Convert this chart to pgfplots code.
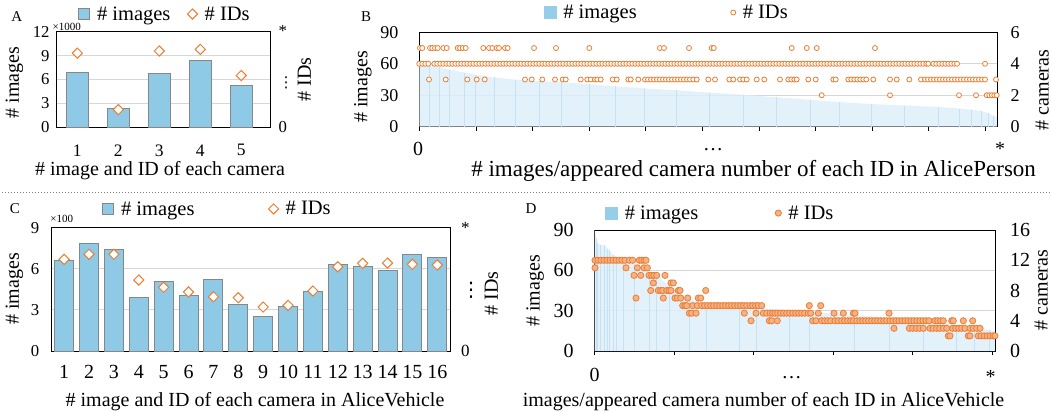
\documentclass[border=0pt]{standalone}
\usepackage{fontspec}
\setmainfont{Liberation Serif}
\newfontfamily\dejavu{DejaVu Sans}
\usepackage{pgfplots}
\pgfplotsset{compat=1.18}

\definecolor{barblue}{RGB}{142,201,230}
\definecolor{baredge}{RGB}{135,135,135}
\definecolor{ora}{RGB}{237,125,49}
\definecolor{pale}{RGB}{222,239,249}
\definecolor{paleline}{RGB}{196,226,243}
\definecolor{legblue}{RGB}{150,205,232}
\definecolor{salmon}{RGB}{245,178,135}
\definecolor{gridc}{RGB}{215,215,215}

\newcommand{\fs}[1]{\rmfamily\fontsize{#1}{#1}\selectfont}

\pgfplotsset{
 panel/.style={scale only axis, axis line style={black, line width=1pt},
   /pgf/number format/assume math mode=true,
   tick label style={font=\fs{16.7}}, label style={font=\fs{20}},
   grid style={gridc, line width=1pt}},
 legA/.style={legend style={draw=none, fill=none, legend columns=2, font=\fs{20.5}, anchor=center, inner sep=0pt,
   /tikz/every even column/.append style={column sep=#1},
   /tikz/every odd column/.append style={column sep=5pt}}, legend cell align=left},
 barleg/.style={legend image code/.code={\draw[fill=barblue, draw=baredge, line width=0.8pt] (0pt,-5.5pt) rectangle (11pt,5.5pt);}},
 paleleg/.style={legend image code/.code={\fill[legblue] (0pt,-6pt) rectangle (12pt,6pt);}},
 markleg/.style={legend image code/.code={\draw[mark repeat=2,mark phase=2,##1] plot coordinates {(0pt,0pt)(5pt,0pt)(10pt,0pt)};}},
}

\begin{document}
\begin{tikzpicture}
\path[use as bounding box] (0pt,0pt) rectangle (1052pt,-412pt);

%%%%%%%%%%%%%%%% A
\begin{axis}[panel, at={(56pt,-127pt)}, anchor=south west, width=214pt, height=95pt,
 xmin=0.48, xmax=5.7, ymin=0, ymax=12, xtick={1,2,3,4,5}, ytick={0,3,6,9,12},
 major tick length=0pt, ymajorgrids,
 xticklabel style={font=\fs{17.5}, yshift=-14pt}, yticklabel style={xshift=-3pt},
 xlabel={\# image and ID of each camera}, xlabel style={at={(axis description cs:0.486,-0.463)}, anchor=center},
 ylabel={\# images}, ylabel style={at={(axis description cs:-0.194,0.468)}, anchor=center}]
\addplot[ybar, bar width=22pt, fill=barblue, draw=baredge, line width=1pt] coordinates {(1,6.9)(2,2.4)(3,6.7)(4,8.4)(5,5.2)};
\end{axis}
\begin{axis}[panel, at={(56pt,-127pt)}, anchor=south west, width=214pt, height=95pt,
 xmin=0.48, xmax=5.7, ymin=0, ymax=12, axis y line*=right, axis x line=none,
 ytick={0,5.6,12}, yticklabels={0,{\dejavu\fontsize{15}{15}\selectfont ⋮},\raisebox{2pt}{*}}, major tick length=0pt, yticklabel style={xshift=5pt},
 ylabel={\# IDs}, ylabel style={at={(axis description cs:1.161,0.5)}, anchor=center},
 legA=15pt, legend style={at={(axis description cs:0.509,1.189)}}]
\addlegendimage{barleg}
\addplot[markleg, only marks, mark=square*, mark size=3.6pt, mark options={rotate=45, fill=white, draw=ora, line width=1pt}] coordinates {(1,9.33)(2,2.2)(3,9.6)(4,9.8)(5,6.5)};
\legend{\# images, \# IDs}
\end{axis}

%%%%%%%%%%%%%%%% B
\begin{axis}[panel, at={(419.3pt,-126.7pt)}, anchor=south west, width=578.4pt, height=94.4pt,
 xmin=0, xmax=578.4, ymin=0, ymax=90, ytick={0,30,60,90}, ymajorgrids,
 xtick={0,56.6,...,570}, xticklabels={}, xtick pos=left, tick align=outside,
 xtick style={black, line width=0.8pt}, major tick length=4pt, ytick style={draw=none},
 yticklabel style={font=\fs{18}, xshift=-13.5pt},
 xlabel={\# images/appeared camera number of each ID in AlicePerson}, xlabel style={font=\fs{23}, at={(axis description cs:0.578,-0.469)}, anchor=center},
 ylabel={\# images}, ylabel style={at={(axis description cs:-0.0973,0.42)}, anchor=center}]
\addplot[draw=none, fill=pale, fill opacity=0.85] coordinates {(0,60)(10,58)(20,56.5)(30,54.5)(45,51.5)(55.7,49.6)(75,47)(95.7,44.8)(120,43.5)(142.4,42.3)(170,40.5)(195.7,38.5)(225,36.5)(257.4,34.7)(290,32.5)(324,30.5)(357,28)(390.7,25.7)(420,23.5)(452.4,21.6)(485,20.2)(519,18.8)(540,17.3)(552.4,16.2)(562,15)(569,13)(574,10.5)(578.4,8.3)} \closedcycle;
\addplot[ycomb, paleline, line width=0.7pt, mark=none] coordinates {(10,58)(20,56.5)(30,54.5)(45,51.5)(55.7,49.6)(75,47)(95.7,44.8)(120,43.5)(142.4,42.3)(170,40.5)(195.7,38.5)(225,36.5)(257.4,34.7)(290,32.5)(324,30.5)(357,28)(390.7,25.7)(420,23.5)(452.4,21.6)(485,20.2)(519,18.8)(540,17.3)(552.4,16.2)(562,15)(569,13)(574,10.5)};
\end{axis}
\begin{axis}[panel, at={(419.3pt,-126.7pt)}, anchor=south west, width=578.4pt, height=94.4pt,
 xmin=0, xmax=578.4, ymin=0, ymax=6, axis y line*=right, axis x line=none, clip=false,
 ytick={0,2,4,6}, ytick style={draw=none}, yticklabel style={font=\fs{18}, xshift=9.5pt},
 ylabel={\# cameras}, ylabel style={at={(axis description cs:1.077,0.389)}, anchor=center},
 legA=92pt, legend style={at={(axis description cs:0.428,1.21)}}]
\addlegendimage{paleleg}
\addplot[markleg, only marks, mark=*, mark size=2.5pt, mark options={fill=white, draw=ora, line width=0.8pt}] coordinates {
(0.7,5)(3,5)(10.7,5)(13,5)(15.7,5)(18.4,5)(24,5)(27.4,5)(38.4,5)(40.7,5)(43.4,5)(46.4,5)(64,5)(69.7,5)(73,5)(77.4,5)(79.7,5)(85.7,5)(88.4,5)(114.7,5)(136.7,5)(170,5)(240.7,5)(244.7,5)(269.7,5)(292.4,5)(294.5,5)(372.4,5)(387.4,5)(397.4,5)(455.7,5)
(0,4)(3,4)(6,4)(9,4)(15,4)(18,4)(21,4)(24,4)(27,4)(30,4)(33,4)(36,4)(39,4)(42,4)(45,4)(48,4)(51,4)(54,4)(57,4)(60,4)(63,4)(66,4)(69,4)(72,4)(75,4)(78,4)(81,4)(84,4)(87,4)(90,4)(93,4)(96,4)(99,4)(102,4)(105,4)(108,4)(111,4)(114,4)(117,4)(120,4)(123,4)(126,4)(129,4)(132,4)(135,4)(138,4)(141,4)(144,4)(147,4)(150,4)(153,4)(156,4)(159,4)(162,4)(165,4)(168,4)(171,4)(174,4)(177,4)(180,4)(183,4)(186,4)(189,4)(192,4)(195,4)(198,4)(201,4)(204,4)(207,4)(210,4)(213,4)(216,4)(219,4)(222,4)(225,4)(228,4)(231,4)(234,4)(237,4)(240,4)(243,4)(246,4)(249,4)(252,4)(255,4)(258,4)(261,4)(264,4)(267,4)(270,4)(273,4)(276,4)(279,4)(282,4)(285,4)(288,4)(291,4)(294,4)(297,4)(300,4)(303,4)(306,4)(309,4)(312,4)(315,4)(318,4)(321,4)(324,4)(327,4)(330,4)(333,4)(336,4)(339,4)(342,4)(345,4)(348,4)(351,4)(354,4)(357,4)(360,4)(363,4)(366,4)(369,4)(372,4)(375,4)(378,4)(381,4)(384,4)(387,4)(390,4)(393,4)(396,4)(399,4)(402,4)(405,4)(408,4)(411,4)(414,4)(417,4)(420,4)(423,4)(426,4)(429,4)(432,4)(435,4)(438,4)(441,4)(444,4)(447,4)(450,4)(453,4)(456,4)(459,4)(462,4)(465,4)(468,4)(471,4)(474,4)(477,4)(480,4)(483,4)(486,4)(489,4)(492,4)(495,4)(498,4)(501,4)(504,4)(507,4)(509,4)(514,4)(517,4)(520,4)(523,4)(526,4)(529,4)(532,4)(535,4)(537.7,4)(565.7,4)
(9.7,3)(26.4,3)(48,3)(57.4,3)(65.4,3)(105.7,3)(112.4,3)(123,3)(135.7,3)(143.4,3)(146.4,3)(161.4,3)(168,3)(171.4,3)(175.7,3)(178,3)(181.4,3)(193.4,3)(197.4,3)(209,3)(211.4,3)(219,3)(225.7,3)(228.7,3)(231.7,3)(234.7,3)(237.7,3)(240.7,3)(243.7,3)(246.7,3)(249.7,3)(252.7,3)(255.7,3)(258.7,3)(261.7,3)(264.7,3)(267.7,3)(270.7,3)(274,3)(277.4,3)(289,3)(295.7,3)(310,3)(314,3)(320.7,3)(324,3)(327.4,3)(337.4,3)(345,3)(360.7,3)(369,3)(372,3)(375,3)(377.4,3)(389,3)(396.4,3)(414,3)(416.4,3)(429,3)(432,3)(435,3)(438,3)(441,3)(444,3)(447,3)(454,3)(470.7,3)(477.4,3)(490,3)(501.7,3)(505.7,3)(508.7,3)(511.7,3)(514.7,3)(517.7,3)(520.7,3)(523.7,3)(526.7,3)(529.7,3)(532.7,3)(535.7,3)(538.7,3)(541.7,3)(544.7,3)(547.7,3)(550.7,3)(553.7,3)(556.7,3)(559.7,3)(562.7,3)(565.7,3)(576.7,3)
(402.4,2)(470.7,2)(539.7,2)(556.7,2)(567.4,2)(570,2)(572.5,2)(575,2)(577.4,2)};
\legend{\# images, \# IDs}
\end{axis}

%%%%%%%%%%%%%%%% C
\begin{axis}[panel, at={(51.7pt,-351pt)}, anchor=south west, width=399pt, height=123.3pt,
 xmin=0.5, xmax=16.54, ymin=0, ymax=9, xtick={1,...,16}, ytick={0,3,6,9},
 major tick length=0pt, ymajorgrids, ytick style={draw=none},
 yticklabel style={xshift=-9pt}, xticklabel style={font=\fs{20}, yshift=-10.5pt},
 xlabel={\# image and ID of each camera in AliceVehicle}, xlabel style={at={(axis description cs:0.5095,-0.411)}, anchor=center},
 ylabel={\# images}, ylabel style={at={(axis description cs:-0.0932,0.503)}, anchor=center}]
\addplot[ybar, bar width=19pt, fill=barblue, draw=baredge, line width=1pt] coordinates {(1,6.64)(2,7.86)(3,7.44)(4,3.92)(5,5.06)(6,4.04)(7,5.23)(8,3.43)(9,2.53)(10,3.26)(11,4.36)(12,6.33)(13,6.18)(14,5.84)(15,7.06)(16,6.86)};
\end{axis}
\begin{axis}[panel, at={(51.7pt,-351pt)}, anchor=south west, width=399pt, height=123.3pt,
 xmin=0.5, xmax=16.54, ymin=0, ymax=9, axis y line*=right, axis x line=none,
 ytick={0,4.4,9.0}, yticklabels={0,{\dejavu\fontsize{20}{20}\selectfont ⋮},*}, major tick length=0pt,
 yticklabel style={font=\fs{17}, xshift=7pt},
 ylabel={\# IDs}, ylabel style={at={(axis description cs:1.102,0.466)}, anchor=center},
 legA=72pt, legend style={at={(axis description cs:0.4155,1.152)}}]
\addlegendimage{barleg}
\addplot[markleg, only marks, mark=square*, mark size=3.6pt, mark options={rotate=45, fill=white, draw=ora, line width=1pt}] coordinates {(1,6.69)(2,7.06)(3,7.06)(4,5.18)(5,4.65)(6,4.31)(7,3.96)(8,3.89)(9,3.21)(10,3.33)(11,4.38)(12,6.15)(13,6.4)(14,6.42)(15,6.33)(16,6.28)};
\legend{\# images, \# IDs}
\end{axis}

%%%%%%%%%%%%%%%% D
\begin{axis}[panel, at={(594.7pt,-351pt)}, anchor=south west, width=400.3pt, height=121pt,
 xmin=0, xmax=400.3, ymin=0, ymax=90, ytick={0,30,60,90}, ymajorgrids,
 xtick={0,79.5,...,400}, xticklabels={}, xtick pos=left, tick align=outside,
 xtick style={black, line width=0.8pt}, major tick length=4pt, ytick style={draw=none},
 yticklabel style={font=\fs{20}, xshift=-13.5pt},
 xlabel={images/appeared camera number of each ID in AliceVehicle}, xlabel style={at={(axis description cs:0.4217,-0.419)}, anchor=center},
 ylabel={\# images}, ylabel style={at={(axis description cs:-0.149,0.496)}, anchor=center}]
\addplot[draw=none, fill=pale, fill opacity=0.85] coordinates {(0,90)(1.5,84)(3,80)(6,79)(10,78.5)(13,76)(15,75)(18.6,71.4)(22,70)(28.6,69)(40,65)(55,58)(62,56.5)(75,48)(95,38)(112,35.5)(145,34.2)(162,32.2)(195,30.5)(215,28.8)(260,26.8)(295,24.3)(328.6,21.8)(362,19.3)(380,17.5)(395,15.6)(400.3,14.4)} \closedcycle;
\addplot[ycomb, paleline, line width=0.7pt, mark=none] coordinates {(1.5,84)(3,80)(6,79)(10,78.5)(13,76)(15,75)(18.6,71.4)(22,70)(28.6,69)(40,65)(55,58)(62,56.5)(75,48)(95,38)(112,35.5)(145,34.2)(162,32.2)(195,30.5)(215,28.8)(260,26.8)(295,24.3)(328.6,21.8)(362,19.3)(380,17.5)(395,15.6)};
\end{axis}
\begin{axis}[panel, at={(594.7pt,-351pt)}, anchor=south west, width=400.3pt, height=121pt,
 xmin=0, xmax=400.3, ymin=0, ymax=16, axis y line*=right, axis x line=none, clip=false,
 ytick={0,4,8,12,16}, ytick style={draw=none}, yticklabel style={font=\fs{20}, xshift=11.5pt},
 ylabel={\# cameras}, ylabel style={at={(axis description cs:1.115,0.504)}, anchor=center},
 legA=75pt, legend style={at={(axis description cs:0.314,1.14)}}]
\addlegendimage{paleleg}
\addplot[markleg, only marks, mark=*, mark size=3.1pt, mark options={fill=salmon, draw=ora, line width=0.8pt}] coordinates {
(0.3,12)(3.3,12)(6.3,12)(9.3,12)(12.3,12)(15.3,12)(18.3,12)(21.3,12)(24.3,12)(27.3,12)(30.3,12)(34.6,12)(38,12)(44.6,12)(47,12)(49.3,12)(51.3,12)
(0.3,11)(31.3,11)(42.7,11)(49.3,11)(52.7,11)
(39.3,10)(46,10)(54.3,10)(57,10)(59.3,10)(62,10)(70.3,10)
(58.6,9)(76.3,9)(78.6,9)
(56,8)(63.6,8)(66,8)(68,8)(72,8)(74.3,8)(76.3,8)(83.6,8)(85.3,8)(111,8)
(41.3,7)(68.6,7)(80.3,7)(82.6,7)(86,7)(93,7)(103.6,7)(106,7)
(88,6)(90.3,6)(92,6)(98,6)(102.6,6)(107,6)(110,6)(113,6)(116,6)(119,6)(122,6)(125,6)(128,6)(131,6)(134,6)(137,6)(140,6)(143,6)(146,6)(149,6)(152,6)(155.3,6)(158,6)(161,6)(163.6,6)(167,6)(214.6,6)(226,6)
(94.6,5)(97,5)(101.3,5)(149.6,5)(161.3,5)(168.6,5)(172,5)(175.5,5)(178,5)(180.3,5)(183,5)(186,5)(189,5)(192,5)(195,5)(198,5)(201,5)(204,5)(207,5)(210,5)(213.6,5)(216,5)(223.6,5)(239.3,5)(248.6,5)(258.6,5)(260.3,5)(294.3,5)
(156.3,4)(174.6,4)(177,4)(182.6,4)(218,4)(221.3,4)(227,4)(230,4)(233,4)(236,4)(240.3,4)(243.6,4)(247,4)(250,4)(253,4)(256,4)(258.6,4)(262,4)(265,4)(268,4)(271,4)(274,4)(277,4)(280,4)(283,4)(286,4)(289,4)(292,4)(295.3,4)(298.3,4)(301.3,4)(304.3,4)(307.3,4)(310.3,4)(313.3,4)(316.3,4)(319.3,4)(322.3,4)(325.3,4)(328.3,4)(331.3,4)(334.3,4)(340.3,4)(343,4)(346,4)(348.6,4)(357,4)(358.6,4)(368.6,4)(378,4)
(299.3,3)(314.6,3)(318,3)(321.5,3)(325,3)(328.6,3)(335.3,3)(338.5,3)(342,3)(345,3)(348.5,3)(352,3)(358,3)(361,3)(364,3)(367,3)(370.3,3)(375.3,3)(378.5,3)(382,3)(385.3,3)
(353.6,2)(355.3,2)(373.6,2)(375.3,2)(383.6,2)(386.5,2)(389.5,2)(392.5,2)(395.5,2)(398.5,2)(400.3,2)};
\legend{\# images, \# IDs}
\end{axis}

%%%%%%%%%%%%%%%% annotations
\node[font=\fs{15}] at (16.7pt,-16.7pt) {A};
\node[font=\fs{15}] at (366pt,-16.7pt) {B};
\node[font=\fs{15}] at (15pt,-209pt) {C};
\node[font=\fs{15}] at (531pt,-209pt) {D};
\node[font=\fs{11}] at (66.7pt,-27pt) {×1000};
\node[font=\fs{11}] at (61.7pt,-219pt) {×100};
\node[font=\fs{20}, anchor=base] at (418pt,-155pt) {0};
\node[font=\fs{20}, anchor=base] at (713pt,-150pt) {\dots};
\node[font=\fs{20}, anchor=base] at (1000pt,-155pt) {*};
\node[font=\fs{20}, anchor=base] at (594.7pt,-381.7pt) {0};
\node[font=\fs{20}, anchor=base] at (791.7pt,-378pt) {\dots};
\node[font=\fs{20}, anchor=base] at (990.7pt,-383pt) {*};
\draw[gray, line width=1.2pt, dash pattern=on 1.2pt off 1.8pt] (2pt,-192.7pt) -- (1050pt,-192.7pt);
\end{tikzpicture}
\end{document}
